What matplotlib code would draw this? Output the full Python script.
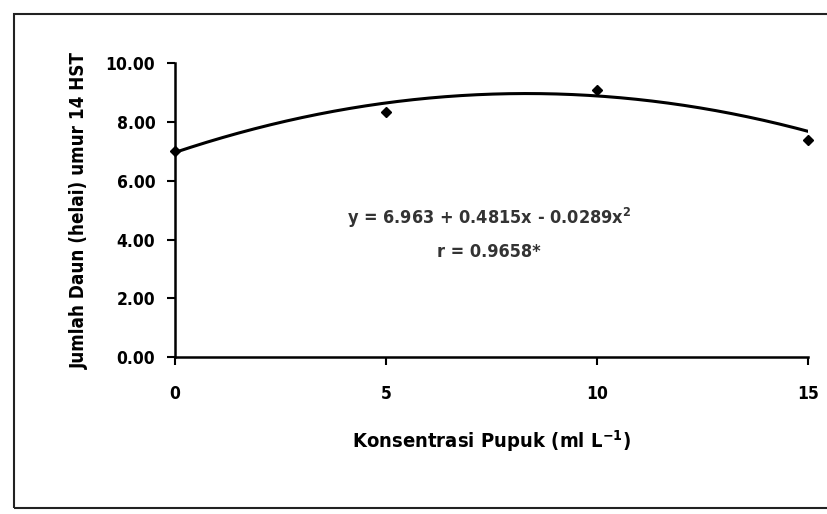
import numpy as np
import matplotlib.pyplot as plt
from matplotlib.patches import Rectangle

plt.rcParams['font.family'] = ['DejaVu Sans']
plt.rcParams['font.stretch'] = 'condensed'
plt.rcParams['font.weight'] = 'bold'
plt.rcParams['axes.labelweight'] = 'bold'

# data
konsentrasi = [0, 5, 10, 15]
jumlah_daun = [7.0, 8.35, 9.1, 7.4]
# quadratic fit printed on the chart: y = a + b x + c x^2
coef = [6.963, 0.4815, -0.0289]
y_ticks = [0, 2, 4, 6, 8, 10]
x_ticks = [0, 5, 10, 15]

fig = plt.figure(figsize=(8.28, 5.14), dpi=100)
fig.patches.append(Rectangle((14 / 828, 6 / 514), 1.0, 1 - 20 / 514,
                             transform=fig.transFigure, fill=False,
                             edgecolor='#222222', linewidth=1.5))

ax = fig.add_axes([0.211, 0.305, 0.765, 0.572])

xs = np.linspace(0, 15, 200)
ys = coef[0] + coef[1] * xs + coef[2] * xs ** 2
ax.plot(xs, ys, color='black', linewidth=2.2)
ax.plot(konsentrasi, jumlah_daun, linestyle='none', marker='D',
        markersize=5, color='black', clip_on=False)

ax.set_xlim(0, 15)
ax.set_ylim(0, 10)
ax.set_xticks(x_ticks)
ax.set_yticks(y_ticks)
ax.set_yticklabels([f"{v:.2f}" for v in y_ticks])
ax.tick_params(direction='out', length=6, width=1.5, labelsize=12.5, pad=8)
ax.tick_params(axis='x', pad=14)
for s in ['top', 'right']:
    ax.spines[s].set_visible(False)
for s in ['left', 'bottom']:
    ax.spines[s].set_linewidth(1.8)

ax.set_xlabel("Konsentrasi Pupuk (ml L$^{-1}$)", fontsize=14.5, labelpad=18)
ax.set_ylabel("Jumlah Daun (helai) umur 14 HST", fontsize=13.5, labelpad=12)

ax.text(7.45, 4.73, "y = 6.963 + 0.4815x - 0.0289x$^{2}$", ha='center',
        va='center', fontsize=13, color='#333333')
ax.text(7.45, 3.57, "r = 0.9658*", ha='center', va='center', fontsize=13,
        color='#333333')

fig.savefig("out.png", dpi=100)
